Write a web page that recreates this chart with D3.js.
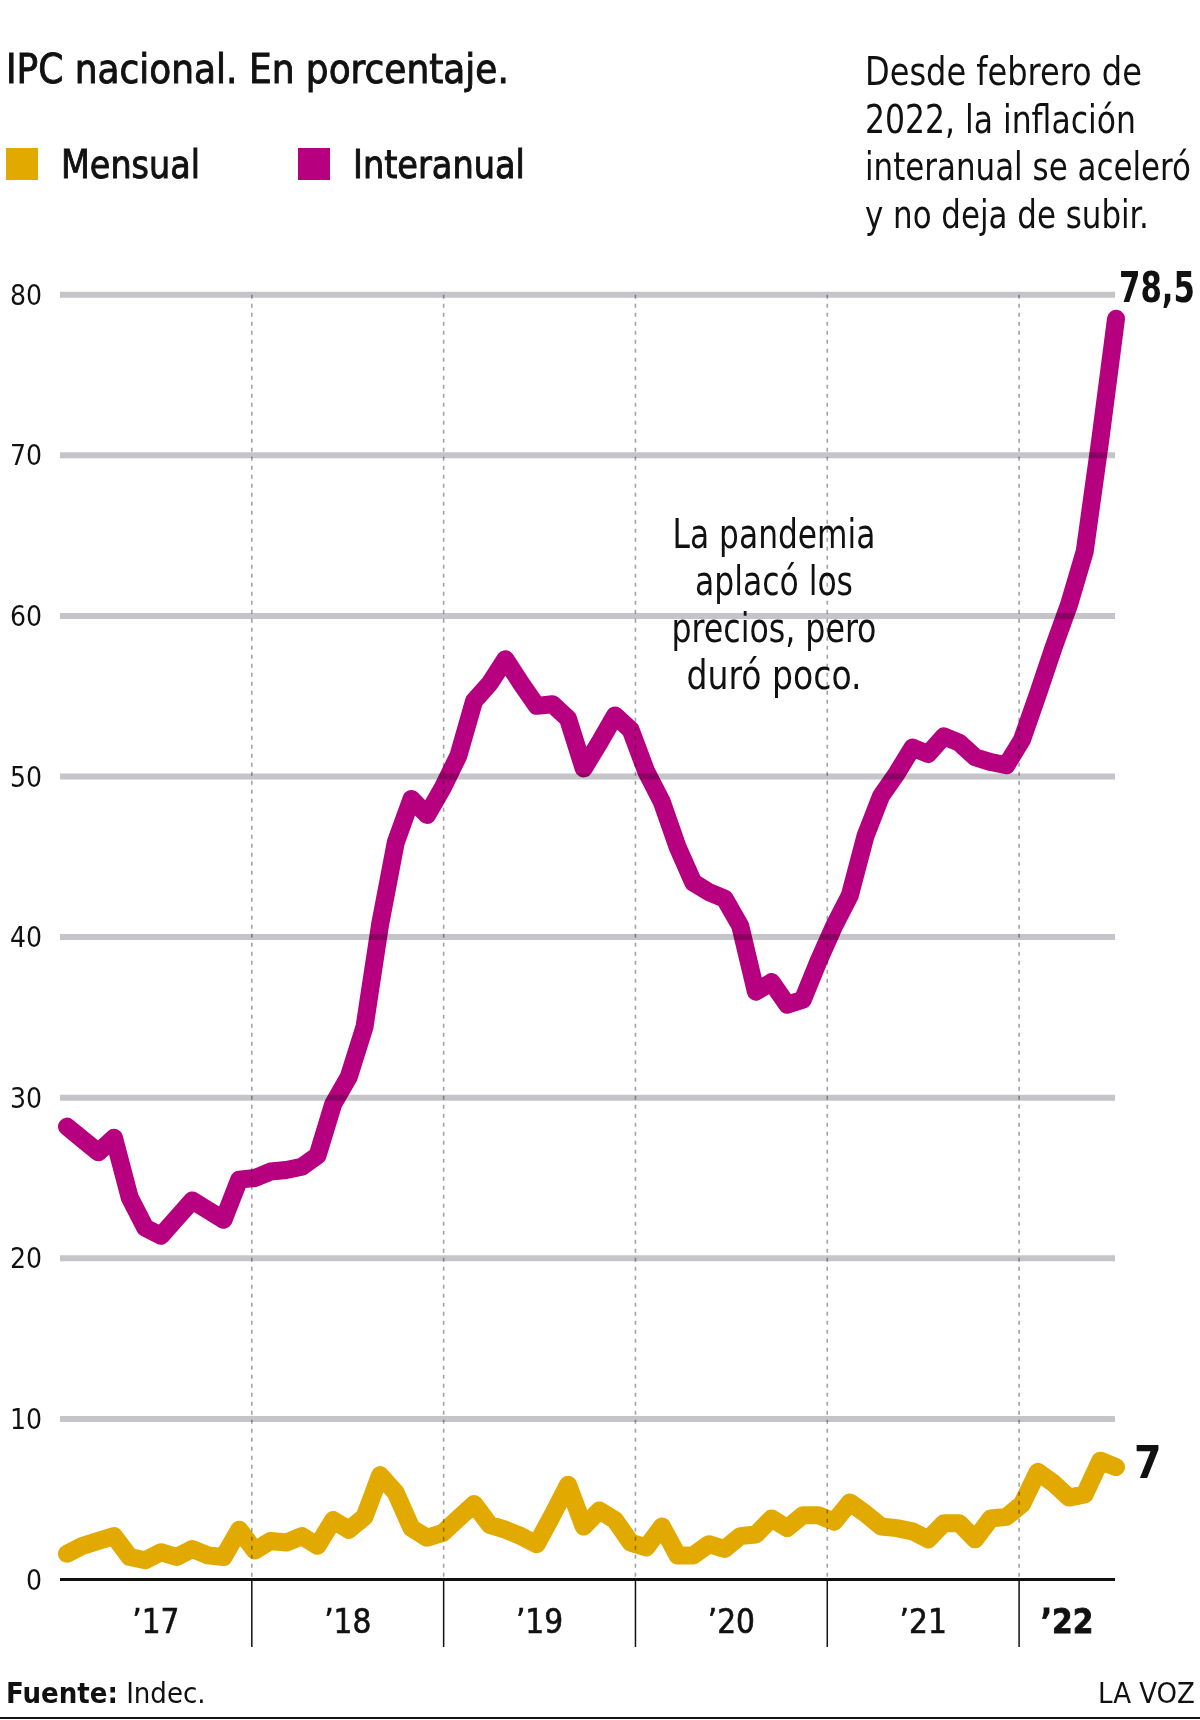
<!DOCTYPE html>
<html>
<head>
<meta charset="utf-8">
<script src="https://cdn.jsdelivr.net/npm/d3@7"></script>
<style>
  body { margin: 0; background: #fff; }
  svg { display: block; }
  text { font-family: 'Liberation Sans Narrow', 'DejaVu Sans Condensed', 'Roboto', sans-serif; fill: #111; }
</style>
</head>
<body>
<svg width="1200" height="1720"></svg>
<script>

// IPC nacional, ene 2017 - ago 2022 (uno por mes)
var mensual = [
  1.6, 2.1, 2.4, 2.7, 1.4, 1.2, 1.7, 1.4, 1.9, 1.5, 1.4, 3.1,
  1.8, 2.4, 2.3, 2.7, 2.1, 3.7, 3.1, 3.9, 6.5, 5.4, 3.2, 2.6,
  2.9, 3.8, 4.7, 3.4, 3.1, 2.7, 2.2, 4.0, 5.9, 3.3, 4.3, 3.7,
  2.3, 2.0, 3.3, 1.5, 1.5, 2.2, 1.9, 2.7, 2.8, 3.8, 3.2, 4.0,
  4.0, 3.6, 4.8, 4.1, 3.3, 3.2, 3.0, 2.5, 3.5, 3.5, 2.5, 3.8,
  3.9, 4.7, 6.7, 6.0, 5.1, 5.3, 7.4, 7.0
];

var interanual = [
  28.2, 27.4, 26.6, 27.5, 23.8, 21.9, 21.4, 22.5, 23.6, 23.0, 22.4, 24.9,
  25.0, 25.4, 25.5, 25.7, 26.4, 29.6, 31.3, 34.4, 40.8, 45.9, 48.6, 47.6,
  49.3, 51.3, 54.7, 55.8, 57.3, 55.8, 54.4, 54.5, 53.6, 50.5, 52.1, 53.8,
  52.9, 50.3, 48.4, 45.6, 43.4, 42.8, 42.4, 40.7, 36.6, 37.2, 35.8, 36.1,
  38.5, 40.7, 42.6, 46.3, 48.8, 50.2, 51.8, 51.4, 52.5, 52.1, 51.2, 50.9,
  50.7, 52.3, 55.1, 58.0, 60.7, 64.0, 71.0, 78.5
];

var years = [2017, 2018, 2019, 2020, 2021, 2022];
var yearLabels = ["\u201917", "\u201918", "\u201919", "\u201920", "\u201921", "\u201922"];
var yTicks = [0, 10, 20, 30, 40, 50, 60, 70, 80];

var lastMensual = "7";
var lastInteranual = "78,5";

var notaDerecha = ["Desde febrero de", "2022, la inflación", "interanual se aceleró", "y no deja de subir."];
var notaCentro = ["La pandemia", "aplacó los", "precios, pero", "duró poco."];

var colMensual = "#e2aa00";
var colInter = "#b6007f";

var svg = d3.select("svg");

var x = d3.scaleLinear().domain([0, interanual.length - 1]).range([67, 1116]);
var xYear = d3.scaleLinear().domain([2017, 2022.5]).range([60, 1115]);
var y = d3.scaleLinear().domain([0, 80]).range([1579.5, 294.7]);

// the paper's font is much narrower than the ones we have: squeeze each text to its width
var squeeze = function(sel, w) {
  sel.each(function(d, i) {
    var el = d3.select(this);
    var tx = +el.attr("x"), ty = +el.attr("y");
    var target = typeof w === "function" ? w(d, i) : w;
    var len = this.getComputedTextLength();
    el.attr("x", 0).attr("y", 0)
      .attr("transform", "translate(" + tx + "," + ty + ") scale(" + (target / len) + ",1)");
  });
};

// title + legend
svg.append("text")
  .attr("x", 6).attr("y", 83)
  .attr("font-size", 41)
  .attr("stroke", "#111").attr("stroke-width", 0.9)
  .text("IPC nacional. En porcentaje.")
  .call(squeeze, 503);

var legend = [
  {label: "Mensual", color: colMensual, x: 6, w: 139},
  {label: "Interanual", color: colInter, x: 298, w: 172}
];

var lg = svg.selectAll(".legend")
  .data(legend)
  .enter()
  .append("g")
  .attr("class", "legend")
  .attr("transform", function(d) { return "translate(" + d.x + ",148)"; });

lg.append("rect")
  .attr("width", 32).attr("height", 32)
  .attr("fill", function(d) { return d.color; });

lg.append("text")
  .attr("x", 55).attr("y", 30)
  .attr("font-size", 39)
  .attr("stroke", "#111").attr("stroke-width", 0.9)
  .text(function(d) { return d.label; })
  .call(squeeze, function(d) { return d.w; });

var anchoDerecha = [277, 271, 326, 284];
svg.selectAll(".nota-d")
  .data(notaDerecha)
  .enter()
  .append("text")
  .attr("class", "nota-d")
  .attr("x", 865)
  .attr("y", function(d, i) { return 85 + i * 47.5; })
  .attr("font-size", 39)
  .text(function(d) { return d; })
  .call(squeeze, function(d, i) { return anchoDerecha[i]; });

// lines
var line = function(data) {
  return d3.line()
    .x(function(d, i) { return x(i); })
    .y(function(d) { return y(d); })(data);
};

svg.append("path")
  .attr("d", line(interanual))
  .attr("fill", "none")
  .attr("stroke", colInter)
  .attr("stroke-width", 18)
  .attr("stroke-linejoin", "round")
  .attr("stroke-linecap", "round");

svg.append("path")
  .attr("d", line(mensual))
  .attr("fill", "none")
  .attr("stroke", colMensual)
  .attr("stroke-width", 18)
  .attr("stroke-linejoin", "round")
  .attr("stroke-linecap", "round");

// grid on top of the lines
svg.append("g")
  .style("mix-blend-mode", "multiply")
  .selectAll("line")
  .data(yTicks.filter(function(d) { return d > 0; }))
  .enter()
  .append("line")
  .attr("x1", xYear(2017)).attr("x2", xYear(2022.5))
  .attr("y1", function(d) { return y(d); })
  .attr("y2", function(d) { return y(d); })
  .attr("stroke", "#c4c4c9")
  .attr("stroke-width", 6);

svg.append("g")
  .style("mix-blend-mode", "multiply")
  .selectAll("line")
  .data(years.slice(1))
  .enter()
  .append("line")
  .attr("x1", function(d) { return xYear(d); })
  .attr("x2", function(d) { return xYear(d); })
  .attr("y1", y(80)).attr("y2", y(0))
  .attr("stroke", "#a2a2a8")
  .attr("stroke-width", 1.6)
  .attr("stroke-dasharray", "4,5");

// text note over the grid
var anchoCentro = [203, 158, 205, 175];
svg.selectAll(".nota-c")
  .data(notaCentro)
  .enter()
  .append("text")
  .attr("class", "nota-c")
  .attr("x", 774)
  .attr("y", function(d, i) { return 548 + i * 47; })
  .attr("font-size", 40)
  .attr("text-anchor", "middle")
  .text(function(d) { return d; })
  .call(squeeze, function(d, i) { return anchoCentro[i]; });

// baseline and year ticks
svg.append("line")
  .attr("x1", xYear(2017)).attr("x2", xYear(2022.5))
  .attr("y1", y(0)).attr("y2", y(0))
  .attr("stroke", "#111")
  .attr("stroke-width", 3);

svg.selectAll(".ytick")
  .data(years.slice(1))
  .enter()
  .append("line")
  .attr("class", "ytick")
  .attr("x1", function(d) { return xYear(d); })
  .attr("x2", function(d) { return xYear(d); })
  .attr("y1", y(0)).attr("y2", 1647)
  .attr("stroke", "#111")
  .attr("stroke-width", 1.5);

svg.selectAll(".ylab")
  .data(years)
  .enter()
  .append("text")
  .attr("class", "ylab")
  .attr("x", function(d) { return (xYear(d) + xYear(Math.min(d + 1, 2022.5))) / 2; })
  .attr("y", 1633)
  .attr("text-anchor", "middle")
  .attr("font-size", 33)
  .attr("font-weight", function(d, i) { return i == years.length - 1 ? 700 : 400; })
  .attr("stroke", "#111")
  .attr("stroke-width", function(d, i) { return i == years.length - 1 ? 0.8 : 0.6; })
  .text(function(d, i) { return yearLabels[i]; });

// y axis labels
svg.selectAll(".vlab")
  .data(yTicks)
  .enter()
  .append("text")
  .attr("class", "vlab")
  .attr("x", 42)
  .attr("y", function(d) { return y(d); })
  .attr("dy", "0.36em")
  .attr("text-anchor", "end")
  .attr("font-size", 28)
  .text(function(d) { return d; });

// end values
svg.append("text")
  .attr("x", 1119).attr("y", 302)
  .attr("font-size", 43).attr("font-weight", 700)
  .text(lastInteranual)
  .call(squeeze, 76);

svg.append("text")
  .attr("x", 1134).attr("y", 1478)
  .attr("font-size", 44).attr("font-weight", 700)
  .text(lastMensual);

// footer
var foot = svg.append("text")
  .attr("x", 6).attr("y", 1703)
  .attr("font-size", 29);
foot.append("tspan").attr("font-weight", 700).text("Fuente:");
foot.append("tspan").text(" Indec.");

svg.append("text")
  .attr("x", 1195).attr("y", 1703)
  .attr("text-anchor", "end")
  .attr("font-size", 29)
  .text("LA VOZ");

svg.append("line")
  .attr("x1", 0).attr("x2", 1200)
  .attr("y1", 1718).attr("y2", 1718)
  .attr("stroke", "#111")
  .attr("stroke-width", 2);

</script>
</body>
</html>
